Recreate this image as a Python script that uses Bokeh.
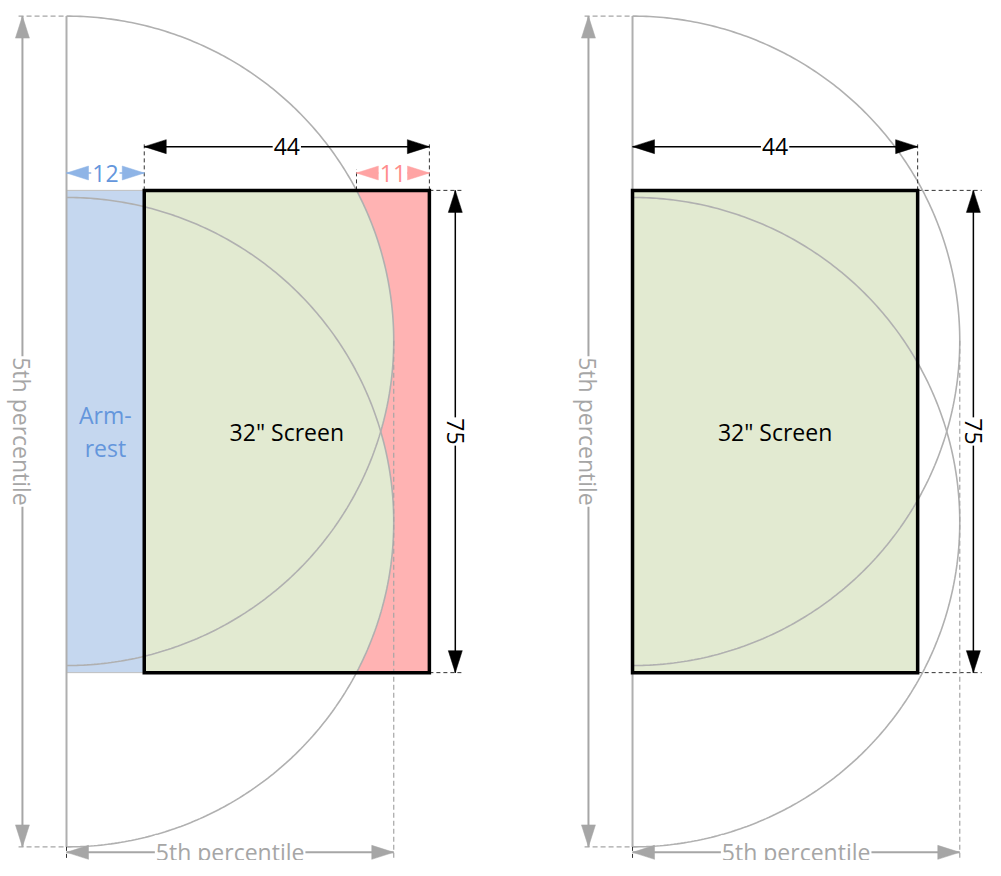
import numpy as np
from bokeh.plotting import figure
from bokeh.models import Range1d
from bokeh.core.properties import value
from bokeh.embed import file_html
from bokeh.resources import INLINE

# ---------------- data (inches) ----------------
seat_x = [0.0, 87.35]            # seat reference line of each panel
armrest_w = [12, 0]              # armrest width per panel
screen_w = [44, 44]
screen_h = [75, 75]
overflow = [11, 0]               # part of screen outside reach
screen_label = ['32" Screen', '32" Screen']
reach_r = 50.5                   # 5th percentile reach radius
shoulder_dy = [14.1, -14.1]      # reach arc centres (relative to screen centre)
reach_label = "5th percentile"
armrest_lines = ["Arm-", "rest"]

# ---------------- layout ----------------
SX, SY = 6.48, 6.43              # px per inch on screen
X0 = (0 - 66) / SX
X1 = X0 + 985 / SX
Y1 = (431 - 0) / SY
Y0 = Y1 - 860 / SY
dim75_off = [4.0, 8.6]
bottom_dim_off = 0.85
HL, HW = 22, 7                   # arrow head length / half width px

GRAY = "#A6A6A6"
ARC = "#B0B0B0"
BLACK = "#000000"
DASH_DK = "#333333"
GREEN = "#E2EAD1"
BLUE = "#C5D7EF"
PINK = "#FFB3B3"
BLUE_T = "#6496DC"
BLUE_A = "#8EB4E6"
PINK_T = "#FF8C8C"
PINK_A = "#FFA3A3"
FONT = value("Open Sans")

p = figure(width=985, height=860, x_range=Range1d(X0, X1), y_range=Range1d(Y0, Y1),
           output_backend="svg", toolbar_location=None, min_border=0,
           x_axis_location=None, y_axis_location=None)
p.grid.visible = False
p.outline_line_color = None
p.background_fill_color = "white"
p.border_fill_color = "white"

lines = {}      # (color, width, dash) -> (xs, ys)
heads = {}      # color -> (xs, ys)
texts = []
borders = []


def add_line(xs, ys, color, width, dash="solid"):
    key = (color, width, dash)
    lines.setdefault(key, ([], []))
    lines[key][0].append(list(xs))
    lines[key][1].append(list(ys))


def add_head(tx, ty, dx, dy, color):
    heads.setdefault(color, ([], []))
    if dy == 0:
        bx = tx - dx * HL / SX
        xs, ys = [tx, bx, bx], [ty, ty + HW / SY, ty - HW / SY]
    else:
        by = ty - dy * HL / SY
        xs, ys = [tx, tx + HW / SX, tx - HW / SX], [ty, by, by]
    heads[color][0].append(xs)
    heads[color][1].append(ys)


def add_text(x, y, t, color, angle=0.0, bg=True):
    texts.append(dict(x=x, y=y, t=t, color=color, angle=angle, bg=bg))


def hdim(xa, xb, y, color, label, tcolor, lw=1.5):
    add_line([xa, xb], [y, y], color, lw)
    add_head(xa, y, -1, 0, color)
    add_head(xb, y, 1, 0, color)
    add_text((xa + xb) / 2, y, label, tcolor)


def vdim(x, ya, yb, color, label, tcolor, lw=1.5):
    add_line([x, x], [ya, yb], color, lw)
    add_head(x, yb, 0, 1, color)
    add_head(x, ya, 0, -1, color)
    add_text(x, (ya + yb) / 2, label, tcolor, angle=-np.pi / 2)


reach_top = max(shoulder_dy) + reach_r
reach_bot = min(shoulder_dy) - reach_r

for i in range(2):
    s = seat_x[i]
    left = s + armrest_w[i]
    right = left + screen_w[i]
    top = screen_h[i] / 2
    bot = -screen_h[i] / 2

    # armrest
    if armrest_w[i] > 0:
        p.quad(left=s, right=left, bottom=bot, top=top, fill_color=BLUE,
               line_color="#BFBFBF", line_width=1)
    # screen fill
    p.quad(left=left, right=right, bottom=bot, top=top, fill_color=GREEN, line_color=None)

    # part of screen outside reach
    if overflow[i] > 0:
        ys = np.linspace(bot, top, 400)
        xb = np.full_like(ys, -np.inf)
        for c in shoulder_dy:
            d = reach_r ** 2 - (ys - c) ** 2
            xb = np.maximum(xb, s + np.sqrt(np.clip(d, 0, None)))
        xb = np.minimum(xb, right)
        p.patch(list(xb) + [right, right], list(ys) + [top, bot],
                fill_color=PINK, line_color=None)

    # reach arcs
    th = np.linspace(-np.pi / 2, np.pi / 2, 300)
    for c in shoulder_dy:
        add_line(s + reach_r * np.cos(th), c + reach_r * np.sin(th), ARC, 1.6)
    # seat line
    add_line([s, s], [reach_bot, reach_top], "#AFAFAF", 2)

    # ---- dimensions ----
    y44 = top + 6.8
    y12 = top + 2.7
    x75 = right + dim75_off[i]
    xv = s - 6.8
    yb = reach_bot - bottom_dim_off

    # extension lines (dark dashed)
    if armrest_w[i] > 0:
        add_line([left, left], [top, y44 + 0.5], DASH_DK, 1, "4 3")
    add_line([right, right], [top, y44 + 0.5], DASH_DK, 1, "4 3")
    add_line([right, x75 + 1.3], [top, top], DASH_DK, 1, "4 3")
    add_line([right, x75 + 1.3], [bot, bot], DASH_DK, 1, "4 3")
    add_line([s, s], [reach_bot, Y0 - 2], DASH_DK, 1, "4 3")
    # extension lines (gray dashed)
    add_line([xv - 0.6, s], [reach_top, reach_top], GRAY, 1.2, "5 3")
    add_line([xv - 0.6, s], [reach_bot, reach_bot], GRAY, 1.2, "5 3")
    add_line([s + reach_r, s + reach_r], [max(shoulder_dy), Y0 - 2], GRAY, 1.2, "5 3")

    hdim(left, right, y44, BLACK, str(screen_w[i]), BLACK)
    vdim(x75, bot, top, BLACK, str(screen_h[i]), BLACK)
    vdim(xv, reach_bot, reach_top, GRAY, reach_label, GRAY, lw=2)
    hdim(s, s + reach_r, yb, GRAY, reach_label, GRAY, lw=2)

    if armrest_w[i] > 0:
        hdim(s, left, y12, BLUE_A, str(armrest_w[i]), BLUE_T)
        cx = s + armrest_w[i] / 2
        add_text(cx, 2.5, armrest_lines[0], BLUE_T, bg=False)
        add_text(cx, -2.5, armrest_lines[1], BLUE_T, bg=False)
    if overflow[i] > 0:
        c = max(shoulder_dy)
        xi = s + np.sqrt(reach_r ** 2 - (top - c) ** 2)
        add_line([xi, xi], [top, y12 + 0.6], DASH_DK, 1, "4 3")
        hdim(xi, right, y12, PINK_A, str(overflow[i]), PINK_T)

    add_text((left + right) / 2, 0, screen_label[i], BLACK, bg=False)
    borders.append((left, right, bot, top))

# draw lines
for (color, width, dash), (xs, ys) in lines.items():
    p.multi_line(xs, ys, line_color=color, line_width=width, line_dash=dash)

# arrow heads
for color, (xs, ys) in heads.items():
    p.patches(xs, ys, fill_color=color, line_color=color, line_width=0.5)

# screen borders
for l, r, b, tp in borders:
    p.quad(left=l, right=r, bottom=b, top=tp, fill_color=None,
           line_color=BLACK, line_width=3.5, line_join="miter")

for t in texts:
    kw = dict(x=[t["x"]], y=[t["y"]], text=[t["t"]], text_color=t["color"],
              angle=t["angle"], text_font=FONT, text_font_size="23px",
              text_align="center", text_baseline="middle")
    if t["bg"]:
        kw.update(background_fill_color="white", padding=1)
    p.text(**kw)

open("out.html", "w").write(file_html(p, INLINE))
